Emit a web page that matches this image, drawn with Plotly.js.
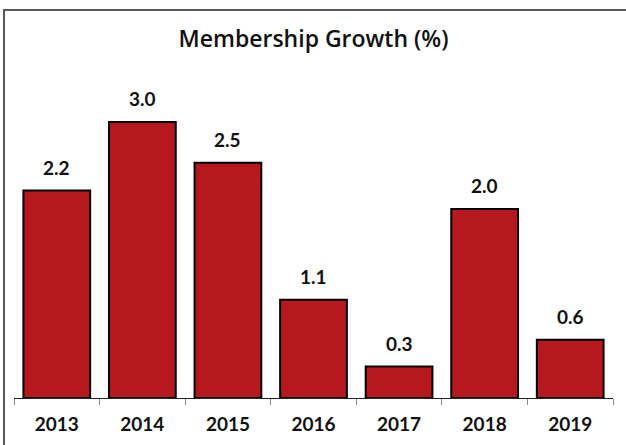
<!DOCTYPE html>
<html>
<head>
<meta charset="utf-8">
<script src="https://cdn.plot.ly/plotly-3.0.1.min.js"></script>
<style>
html,body{margin:0;padding:0;background:#fff;overflow:hidden;}
#chart{width:626px;height:445px;}
</style>
</head>
<body>
<div id="chart"></div>
<script>
const years = ['2013','2014','2015','2016','2017','2018','2019'];
const growth = [2.24, 2.98, 2.54, 1.06, 0.34, 2.04, 0.63];
const chartTitle = 'Membership Growth (%)';

const FONT = 'Lato, Open Sans, Liberation Sans, sans-serif';
const TITLE_FONT = 'Open Sans, Lato, Liberation Sans, sans-serif';

const trace = {
  type: 'bar',
  x: years,
  y: growth,
  marker: {color: '#B5191E', line: {color: '#000000', width: 2}},
  hoverinfo: 'skip'
};

// annotation x on a category axis uses the category index
const valueLabels = years.map((yr, i) => ({
  x: i, y: growth[i], xref: 'x', yref: 'y',
  text: growth[i].toFixed(1),
  showarrow: false, yanchor: 'bottom', yshift: 10,
  font: {family: FONT, size: 19, color: '#111111', weight: 'bold'}
}));

const layout = {
  width: 626,
  height: 445,
  margin: {l: 14, r: 13, t: 60, b: 47},
  paper_bgcolor: '#ffffff',
  plot_bgcolor: '#ffffff',
  bargap: 0.22,
  showlegend: false,
  title: {
    text: chartTitle,
    font: {family: TITLE_FONT, size: 23, color: '#111111', weight: 600},
    x: 0.5, xref: 'paper', xanchor: 'center',
    y: 0.912, yref: 'container', yanchor: 'middle'
  },
  xaxis: {
    type: 'category',
    range: [-0.5, 6.5],
    showline: true,
    linecolor: '#222222',
    linewidth: 1,
    ticks: 'outside',
    tickson: 'boundaries',
    ticklen: 6,
    tickcolor: '#888888',
    tickwidth: 1,
    showgrid: false,
    zeroline: false,
    tickfont: {family: FONT, size: 19, color: '#111111', weight: 'bold'},
    ticklabelstandoff: 9
  },
  yaxis: {
    range: [0, 3.65],
    visible: false,
    showgrid: false,
    zeroline: false
  },
  annotations: valueLabels,
  shapes: [{
    type: 'rect', xref: 'paper', yref: 'paper',
    x0: -0.0167, x1: 1.1, y0: -0.3, y1: 1.148,
    line: {color: '#595959', width: 2},
    fillcolor: 'rgba(0,0,0,0)',
    layer: 'below'
  }]
};

Plotly.newPlot('chart', [trace], layout, {displayModeBar: false, staticPlot: true});
</script>
</body>
</html>
